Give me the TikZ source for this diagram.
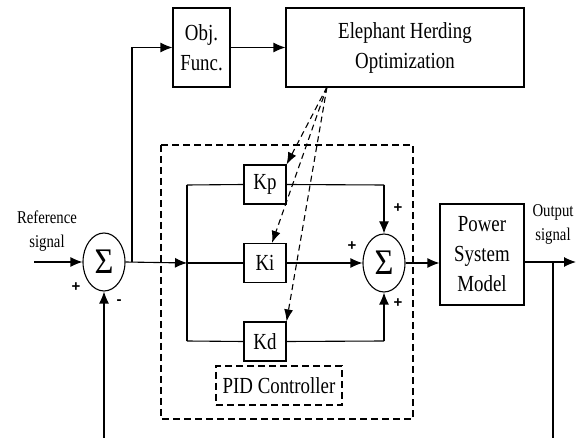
\documentclass[tikz,border=0pt]{standalone}
\usepackage{fontspec}
\setmainfont{Liberation Serif}[FakeStretch=0.82]
\newfontfamily\plusfont{Liberation Sans}
\newfontfamily\sigmafont{Liberation Serif}[FakeStretch=0.9]
\usetikzlibrary{shapes.geometric,arrows.meta}
\tikzset{
  blk/.style={draw,line width=1.1pt,inner sep=0pt,align=center,font=\fontsize{23}{30}\selectfont},
  sumnode/.style={draw,ellipse,line width=1.1pt,minimum width=42pt,minimum height=58pt,inner sep=0pt,font=\sigmafont\fontsize{36}{36}\selectfont},
  sig/.style={line width=1.1pt},
  arr/.style={line width=1.1pt,-{Latex[length=12pt,width=10pt]}},
  darr/.style={line width=1.1pt,dash pattern=on 6pt off 4pt,-{Latex[length=12pt,width=9pt]}},
  sign/.style={font=\plusfont\bfseries\fontsize{15}{15}\selectfont,inner sep=0pt},
  lbl/.style={font=\fontsize{18}{18}\selectfont,inner sep=0pt}
}
\begin{document}
\begin{tikzpicture}[x=1pt,y=-1pt]
\useasboundingbox (0,0) rectangle (576,438);
% outer dashed PID region
\draw[line width=1.1pt,dash pattern=on 7pt off 4pt] (161,145) rectangle (413,419);
% nodes
\node[sumnode] (s1) at (104,262) {Σ};
\node[blk,minimum width=57pt,minimum height=79pt] (obj) at (201.5,47.5) {Obj.\\Func.};
\node[blk,minimum width=238pt,minimum height=79pt] (eho) at (405,47.5) {Elephant Herding\\Optimization};
\node[blk,minimum width=42pt,minimum height=39pt] (kp) at (265,184.5) {Kp};
\node[blk,minimum width=42pt,minimum height=39pt] (ki) at (265,263) {Ki};
\node[blk,minimum width=42pt,minimum height=39pt] (kd) at (265,341.5) {Kd};
\node[sumnode] (s2) at (384,263) {Σ};
\node[blk,minimum width=84pt,minimum height=101pt] (psm) at (482,254.5) {Power\\System\\Model};
\node[blk,dash pattern=on 7pt off 4pt,minimum width=126pt,minimum height=39pt] (pid) at (279,385.5) {PID Controller};
% labels
\node[lbl,align=center] (ref) at (47,231) {Reference\\[6pt]signal};
\node[lbl,align=center] (out) at (553,224) {Output\\[6pt]signal};
\node[sign] (p1) at (76,287) {+};
\node[sign] (m1) at (119,302) {-};
\node[sign] (p2) at (398,208) {+};
\node[sign] (p3) at (352,246) {+};
\node[sign] (p4) at (398,303) {+};
% coordinates
\coordinate (in) at (34,262);
\coordinate (j1) at (132,262);
\coordinate (br) at (187,263);
\coordinate (brt) at (187,185);
\coordinate (brb) at (187,341);
\coordinate (kpr) at (384,185);
\coordinate (kdr) at (384,341);
\coordinate (jo) at (553,262);
\coordinate (oute) at (576,262);
\coordinate (fbb) at (553,438);
\coordinate (fbl) at (104,438);
\coordinate (eb) at (327,87);
% connectors
\draw[arr] (in) -- (s1.west);
\draw[arr] (s1.east) -- (br);
\draw[arr] (j1) |- (obj.west);
\draw[arr] (obj.east) -- (obj.east -| eho.west);
\draw[sig] (brt) -- (brb);
\draw[sig] (brt) -- (kp.west);
\draw[sig] (br) -- (ki.west);
\draw[sig] (brb) -- (kd.west);
\draw[sig] (kp.east) -- (kpr);
\draw[arr] (kpr) -- (s2.north);
\draw[arr] (ki.east) -- (s2.west);
\draw[sig] (kd.east) -- (kdr);
\draw[arr] (kdr) -- (s2.south);
\draw[arr] (s2.east) -- (s2.east -| psm.west);
\draw[sig] (psm.east |- jo) -- (jo);
\draw[arr] (jo) -- (oute);
\draw[sig] (jo) -- (fbb);
\draw[arr] (fbl) -- (s1.south);
\draw[darr] (eb) -- (kp.north east);
\draw[darr] (eb) -- ([xshift=7pt]ki.north);
\draw[darr] (eb) -- (kd.north east);
\end{tikzpicture}
\end{document}
